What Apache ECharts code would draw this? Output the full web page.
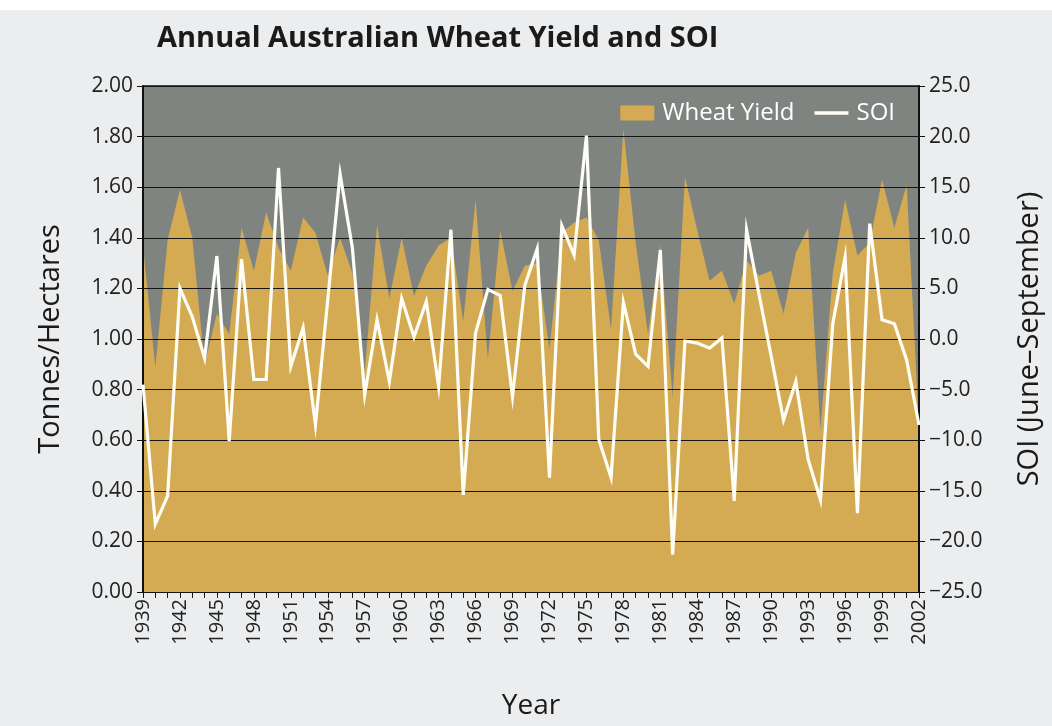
<!DOCTYPE html>
<html>
<head>
<meta charset="utf-8">
<script src="https://cdn.jsdelivr.net/npm/echarts@6/dist/echarts.min.js"></script>
<style>
  html, body { margin: 0; padding: 0; }
  body { background: linear-gradient(#ffffff 0, #ffffff 10px, #ebedee 10px); }
  #chart { width: 1052px; height: 726px; }
</style>
</head>
<body>
<div id="chart"></div>
<script>
// years on the x axis
let years = ['1939','1940','1941','1942','1943','1944','1945','1946','1947','1948',
  '1949','1950','1951','1952','1953','1954','1955','1956','1957','1958',
  '1959','1960','1961','1962','1963','1964','1965','1966','1967','1968',
  '1969','1970','1971','1972','1973','1974','1975','1976','1977','1978',
  '1979','1980','1981','1982','1983','1984','1985','1986','1987','1988',
  '1989','1990','1991','1992','1993','1994','1995','1996','1997','1998',
  '1999','2000','2001','2002'];

// tonnes per hectare
let wheatYield = [1.37, 0.89, 1.39, 1.59, 1.40, 0.90, 1.10, 1.02, 1.44, 1.27,
  1.50, 1.36, 1.27, 1.48, 1.42, 1.25, 1.40, 1.26, 0.87, 1.45,
  1.16, 1.40, 1.17, 1.29, 1.37, 1.40, 1.07, 1.55, 0.92, 1.43,
  1.19, 1.29, 1.30, 0.96, 1.42, 1.46, 1.48, 1.39, 1.04, 1.83,
  1.38, 1.02, 1.37, 0.77, 1.64, 1.43, 1.23, 1.27, 1.14, 1.31,
  1.25, 1.27, 1.10, 1.34, 1.44, 0.64, 1.26, 1.55, 1.33, 1.38,
  1.63, 1.44, 1.61, 0.65];

// SOI, June-September average
let soi = [-4.5, -18.3, -15.5, 5.0, 2.2, -1.9, 8.2, -10.1, 7.9, -4.0,
  -4.0, 16.9, -2.7, 1.1, -8.5, 3.9, 16.3, 9.0, -5.5, 1.9,
  -4.2, 4.0, 0.2, 3.7, -4.7, 10.8, -15.4, 0.6, 4.9, 4.3,
  -5.7, 5.3, 8.9, -13.7, 11.2, 8.3, 20.1, -9.9, -13.7, 3.6,
  -1.5, -2.7, 8.8, -21.3, -0.2, -0.4, -0.9, 0.1, -16.0, 10.8,
  4.5, -1.7, -8.0, -4.2, -11.9, -15.9, 1.5, 8.1, -17.2, 11.4,
  1.9, 1.5, -2.1, -8.5];

const font = "'Open Sans', 'Noto Sans', sans-serif";
const chart = echarts.init(document.getElementById('chart'));

chart.setOption({
  animation: false,
  textStyle: { fontFamily: font },
  title: {
    text: 'Annual Australian Wheat Yield and SOI',
    left: 152,
    top: 19,
    textStyle: { fontSize: 29, fontWeight: 'bold', color: '#1a1a1a', fontFamily: font }
  },
  legend: {
    right: 152,
    top: 96,
    itemWidth: 34,
    itemHeight: 15,
    itemGap: 20,
    textStyle: { color: '#ffffff', fontSize: 24, fontFamily: font, padding: [0, 0, 0, 3] },
    data: [
      { name: 'Wheat Yield', icon: 'rect' },
      { name: 'SOI', icon: 'path://M0,0H30V3H0Z' }
    ]
  },
  grid: {
    left: 143,
    right: 133,
    top: 86,
    bottom: 134,
    show: true,
    backgroundColor: '#7f8481',
    borderColor: '#111',
    borderWidth: 1.5
  },
  xAxis: {
    type: 'category',
    data: years,
    boundaryGap: false,
    name: 'Year',
    nameLocation: 'middle',
    nameGap: 100,
    nameTextStyle: { fontSize: 28, color: '#1a1a1a' },
    axisLine: { lineStyle: { color: '#111', width: 2 } },
    axisTick: { interval: 0, length: 6, lineStyle: { color: '#111' } },
    axisLabel: { interval: 2, rotate: 90, fontSize: 20, color: '#222', margin: 7 },
    splitLine: { show: false }
  },
  yAxis: [
    {
      type: 'value',
      min: 0,
      max: 2,
      interval: 0.2,
      z: 3,
      name: 'Tonnes/Hectares',
      nameLocation: 'middle',
      nameGap: 78,
      nameTextStyle: { fontSize: 29, color: '#1a1a1a' },
      axisLine: { show: true, lineStyle: { color: '#111', width: 2 } },
      axisTick: { show: true, length: 6, lineStyle: { color: '#111' } },
      axisLabel: { fontSize: 21, color: '#222', margin: 10, formatter: v => v.toFixed(2) },
      splitLine: { show: true, lineStyle: { color: '#151515', width: 1.2 } }
    },
    {
      type: 'value',
      min: -25,
      max: 25,
      interval: 5,
      z: 3,
      name: 'SOI (June\u2013September)',
      nameLocation: 'middle',
      nameGap: 96,
      nameTextStyle: { fontSize: 29, color: '#1a1a1a' },
      axisLine: { show: true, lineStyle: { color: '#111', width: 2 } },
      axisTick: { show: true, length: 6, lineStyle: { color: '#111' } },
      axisLabel: { fontSize: 21, color: '#222', margin: 10, formatter: v => v.toFixed(1).replace('-', '\u2212') },
      splitLine: { show: false }
    }
  ],
  series: [
    {
      name: 'Wheat Yield',
      type: 'line',
      yAxisIndex: 0,
      data: wheatYield,
      symbol: 'none',
      z: 2,
      itemStyle: { color: '#d4ab53' },
      lineStyle: { width: 0, color: '#d4ab53' },
      areaStyle: { color: '#d4ab53', opacity: 1 }
    },
    {
      name: 'SOI',
      type: 'line',
      yAxisIndex: 1,
      data: soi,
      symbol: 'none',
      z: 5,
      itemStyle: { color: '#fffef6' },
      lineStyle: { width: 3.2, color: '#fffef6', join: 'miter' }
    }
  ]
});
</script>
</body>
</html>
